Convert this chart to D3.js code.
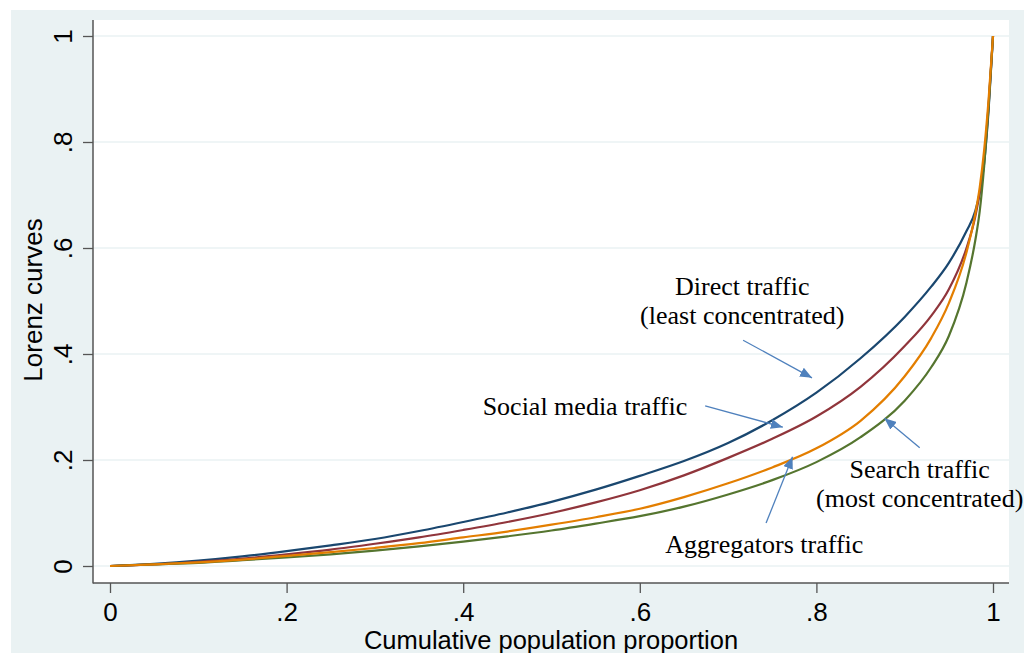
<!DOCTYPE html>
<html>
<head>
<meta charset="utf-8">
<script src="https://cdn.jsdelivr.net/npm/d3@7"></script>
<style>
  html, body { margin: 0; padding: 0; background: #ffffff; }
  svg { display: block; }
</style>
</head>
<body>
<svg id="chart" width="1024" height="653"></svg>
<script>
// ---- data ----
const popShare = [0, 0.05, 0.1, 0.15, 0.2, 0.25, 0.3, 0.35, 0.4, 0.45, 0.5, 0.55, 0.6, 0.65, 0.7, 0.75, 0.8, 0.85, 0.9, 0.93, 0.95, 0.97, 0.98, 0.985, 0.99, 0.995, 1];
const directTraffic      = [0, 0.004, 0.010, 0.018, 0.028, 0.039, 0.051, 0.066, 0.083, 0.101, 0.121, 0.144, 0.170, 0.198, 0.232, 0.275, 0.327, 0.392, 0.470, 0.527, 0.572, 0.632, 0.670, 0.705, 0.760, 0.860, 1];
const socialTraffic      = [0, 0.003, 0.008, 0.014, 0.022, 0.031, 0.042, 0.054, 0.068, 0.083, 0.100, 0.120, 0.143, 0.171, 0.204, 0.240, 0.282, 0.338, 0.415, 0.472, 0.522, 0.600, 0.660, 0.705, 0.770, 0.870, 1];
const searchTraffic      = [0, 0.003, 0.006, 0.011, 0.016, 0.022, 0.029, 0.037, 0.046, 0.056, 0.067, 0.080, 0.094, 0.112, 0.135, 0.162, 0.196, 0.243, 0.312, 0.375, 0.434, 0.535, 0.615, 0.670, 0.755, 0.865, 1];
const aggregatorTraffic  = [0, 0.003, 0.007, 0.012, 0.019, 0.026, 0.034, 0.043, 0.054, 0.065, 0.078, 0.092, 0.108, 0.130, 0.156, 0.186, 0.222, 0.274, 0.358, 0.430, 0.496, 0.592, 0.665, 0.715, 0.785, 0.880, 1];
const xTicks = [0, 0.2, 0.4, 0.6, 0.8, 1];
const yTicks = [0, 0.2, 0.4, 0.6, 0.8, 1];
const tickLabel = v => v === 0 ? "0" : v === 1 ? "1" : String(v).replace(/^0/, "");

const series = [
  { name: "Direct traffic", values: directTraffic, color: "#1a476f" },
  { name: "Social media traffic", values: socialTraffic, color: "#90353b" },
  { name: "Search traffic", values: searchTraffic, color: "#55752f" },
  { name: "Aggregators traffic", values: aggregatorTraffic, color: "#e37e00" }
];

// annotations: text lines anchored in data coordinates, arrow from/to in data coords
const annotations = [
  { lines: ["Direct traffic", "(least concentrated)"], x: 0.716, y: 0.511, anchor: "middle",
    from: [0.717, 0.426], to: [0.795, 0.355] },
  { lines: ["Social media traffic"], x: 0.422, y: 0.285, anchor: "start",
    from: [0.674, 0.302], to: [0.762, 0.262] },
  { lines: ["Search traffic", "(most concentrated)"], x: 0.917, y: 0.166, anchor: "middle",
    from: [0.917, 0.223], to: [0.877, 0.279] },
  { lines: ["Aggregators traffic"], x: 0.741, y: 0.025, anchor: "middle",
    from: [0.743, 0.081], to: [0.773, 0.206] }
];

// ---- layout ----
const svg = d3.select("#chart");
const bg = "#eaf2f3";
const plot = { left: 93, top: 20, right: 1009, bottom: 583 };

svg.append("rect").attr("x", 11).attr("y", 10).attr("width", 1013).attr("height", 643).attr("fill", bg);
svg.append("rect").attr("x", plot.left).attr("y", plot.top)
  .attr("width", plot.right - plot.left).attr("height", plot.bottom - plot.top).attr("fill", "#ffffff");

const x = d3.scaleLinear().domain([0, 1]).range([110, 993]);
const y = d3.scaleLinear().domain([0, 1]).range([566, 36]);

// grid lines
svg.append("g").selectAll("line").data(yTicks).join("line")
  .attr("x1", plot.left).attr("x2", plot.right)
  .attr("y1", d => y(d)).attr("y2", d => y(d))
  .attr("stroke", bg).attr("stroke-width", 1.6);

// y axis
const yAxis = svg.append("g").attr("transform", `translate(${plot.left},0)`)
  .call(d3.axisLeft(y).tickValues(yTicks).tickFormat(tickLabel).tickSize(10).tickPadding(10));
yAxis.select(".domain").remove();
yAxis.selectAll(".tick line").attr("stroke", "#555").attr("stroke-width", 1.3);
yAxis.selectAll(".tick text")
  .attr("font-family", "'Liberation Sans', Arial, sans-serif").attr("font-size", 26).attr("fill", "#000")
  .attr("x", null).attr("dy", null)
  .attr("transform", "translate(-21,0) rotate(-90)")
  .attr("text-anchor", "middle");

// x axis
const xAxis = svg.append("g").attr("transform", `translate(0,${plot.bottom})`)
  .call(d3.axisBottom(x).tickValues(xTicks).tickFormat(tickLabel).tickSize(10).tickPadding(12));
xAxis.select(".domain").remove();
xAxis.selectAll(".tick line").attr("stroke", "#555").attr("stroke-width", 1.3);
xAxis.selectAll(".tick text")
  .attr("font-family", "'Liberation Sans', Arial, sans-serif").attr("font-size", 26).attr("fill", "#000")
  .attr("dy", null).attr("y", 38);

// axis lines
svg.append("line").attr("x1", plot.left).attr("x2", plot.left).attr("y1", plot.top).attr("y2", plot.bottom + 0.5)
  .attr("stroke", "#555").attr("stroke-width", 1.5);
svg.append("line").attr("x1", plot.left).attr("x2", plot.right).attr("y1", plot.bottom).attr("y2", plot.bottom)
  .attr("stroke", "#555").attr("stroke-width", 1.5);

// axis titles
svg.append("text").attr("x", 551).attr("y", 649).attr("text-anchor", "middle")
  .attr("font-family", "'Liberation Sans', Arial, sans-serif").attr("font-size", 25.5).attr("fill", "#000")
  .text("Cumulative population proportion");
svg.append("text").attr("transform", "translate(42,300) rotate(-90)").attr("text-anchor", "middle")
  .attr("font-family", "'Liberation Sans', Arial, sans-serif").attr("font-size", 26).attr("fill", "#000")
  .text("Lorenz curves");

// curves
const line = d3.line().x(d => x(d[0])).y(d => y(d[1])).curve(d3.curveMonotoneX);
svg.append("g").selectAll("path").data(series).join("path")
  .attr("d", s => line(popShare.map((p, i) => [p, s.values[i]])))
  .attr("fill", "none").attr("stroke", s => s.color).attr("stroke-width", 2.2);

// arrows
const defs = svg.append("defs");
defs.append("marker").attr("id", "arrow").attr("viewBox", "0 0 12 10")
  .attr("refX", 12).attr("refY", 5).attr("markerWidth", 12).attr("markerHeight", 10)
  .attr("markerUnits", "userSpaceOnUse").attr("orient", "auto")
  .append("path").attr("d", "M0,0 L12,5 L0,10 Z").attr("fill", "#4f81bd");

const ann = svg.append("g");
annotations.forEach(a => {
  ann.append("line")
    .attr("x1", x(a.from[0])).attr("y1", y(a.from[1]))
    .attr("x2", x(a.to[0])).attr("y2", y(a.to[1]))
    .attr("stroke", "#4f81bd").attr("stroke-width", 1.3).attr("marker-end", "url(#arrow)");
  const t = ann.append("text")
    .attr("font-family", "'Liberation Serif', 'Times New Roman', serif").attr("font-size", 26)
    .attr("fill", "#000").attr("text-anchor", a.anchor);
  a.lines.forEach((l, i) => {
    t.append("tspan").attr("x", x(a.x)).attr("y", y(a.y) + i * 29).text(l);
  });
});
</script>
</body>
</html>
